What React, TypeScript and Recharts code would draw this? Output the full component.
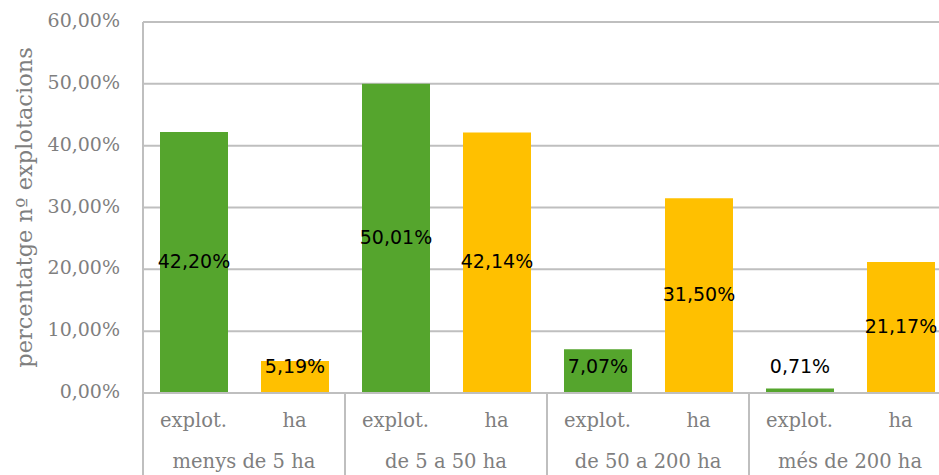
import React from 'react';
import { BarChart, Bar, XAxis, YAxis, CartesianGrid, Cell, LabelList } from 'recharts';

const groups = ['menys de 5 ha', 'de 5 a 50 ha', 'de 50 a 200 ha', 'més de 200 ha'];
const subLabels = ['explot.', 'ha'];
const explotValues = [42.2, 50.01, 7.07, 0.71];
const haValues = [5.19, 42.14, 31.5, 21.17];
const yTicks = [0, 10, 20, 30, 40, 50, 60];
const yAxisTitle = 'percentatge nº explotacions';

const COLORS = ['#55A52D', '#FFC000'];
const GRID = '#BFBFBF';
const TEXT = '#7F7F7F';
const AXIS_FONT = 'DejaVu Serif';
const LABEL_FONT = 'DejaVu Sans';

const rows = groups.flatMap((g, gi) => [
  { key: `${g}|0`, group: g, sub: subLabels[0], s: 0, value: explotValues[gi] },
  { key: `${g}|1`, group: g, sub: subLabels[1], s: 1, value: haValues[gi] },
]);

const fmt = (v: number) => v.toFixed(2).replace('.', ',') + '%';

const CHART_W = 960;
const CHART_H = 475;
const M_TOP = 22;
const M_RIGHT = 9;
const Y_W = 143;
const X_H = 82;
const PLOT_BOTTOM = CHART_H - X_H;
const BAND = (CHART_W - M_RIGHT - Y_W) / rows.length;

const XTick = (props: any) => {
  const { x, payload } = props;
  const idx = payload.index;
  const row = rows[idx];
  const els: any[] = [];
  els.push(
    <text key="s" x={x} y={PLOT_BOTTOM + 28} textAnchor="middle" dominantBaseline="middle"
      fill={TEXT} fontFamily={AXIS_FONT} fontSize={19.5}>{row.sub}</text>
  );
  if (row.s === 0) {
    const left = x - BAND / 2;
    els.push(
      <line key="l" x1={left} x2={left} y1={PLOT_BOTTOM} y2={CHART_H} stroke={GRID} strokeWidth={2} />
    );
    els.push(
      <text key="g" x={x + BAND / 2} y={PLOT_BOTTOM + 69} textAnchor="middle" dominantBaseline="middle"
        fill={TEXT} fontFamily={AXIS_FONT} fontSize={19.5}>{row.group}</text>
    );
  } else if (idx === rows.length - 1) {
    const right = x + BAND / 2;
    els.push(
      <line key="r" x1={right} x2={right} y1={PLOT_BOTTOM} y2={CHART_H} stroke={GRID} strokeWidth={2} />
    );
  }
  return <g>{els}</g>;
};

const YTick = (props: any) => {
  const { y, payload } = props;
  return (
    <text x={120} y={y} textAnchor="end" dominantBaseline="middle" fill={TEXT}
      fontFamily={AXIS_FONT} fontSize={19}>{fmt(payload.value)}</text>
  );
};

const YTitle = (props: any) => {
  const vb = props.viewBox || {};
  const cy = (vb.y ?? M_TOP) + (vb.height ?? PLOT_BOTTOM - M_TOP) / 2;
  return (
    <text x={26} y={cy} transform={`rotate(-90, 26, ${cy})`} textAnchor="middle" dominantBaseline="middle"
      fill={TEXT} fontFamily={AXIS_FONT} fontSize={22.5}>{yAxisTitle}</text>
  );
};

const DataLabel = (props: any) => {
  const { x, y, width, height, value } = props;
  const cy = Math.min(y + height / 2, PLOT_BOTTOM - 26);
  return (
    <text x={x + width / 2} y={cy} textAnchor="middle" dominantBaseline="middle" fill="#000"
      fontFamily={LABEL_FONT} fontSize={19}>{fmt(value)}</text>
  );
};

export default function App() {
  return (
    <div style={{ position: 'absolute', left: 0, top: 0, width: 939, height: 475, overflow: 'hidden', background: '#fff' }}>
      <BarChart width={CHART_W} height={CHART_H} data={rows}
        margin={{ top: M_TOP, right: M_RIGHT, left: 0, bottom: 0 }} barCategoryGap={0}>
        <CartesianGrid vertical={false} stroke={GRID} strokeWidth={2} />
        <XAxis dataKey="key" height={X_H} tickLine={false} axisLine={{ stroke: GRID, strokeWidth: 2 }}
          tick={<XTick />} interval={0} />
        <YAxis width={Y_W} domain={[0, 60]} ticks={yTicks} tickLine={false}
          axisLine={{ stroke: GRID, strokeWidth: 2 }} tick={<YTick />}
          label={<YTitle />} />
        <Bar dataKey="value" barSize={68} isAnimationActive={false}>
          {rows.map((r) => <Cell key={r.key} fill={COLORS[r.s]} />)}
          <LabelList dataKey="value" content={<DataLabel />} />
        </Bar>
      </BarChart>
    </div>
  );
}
